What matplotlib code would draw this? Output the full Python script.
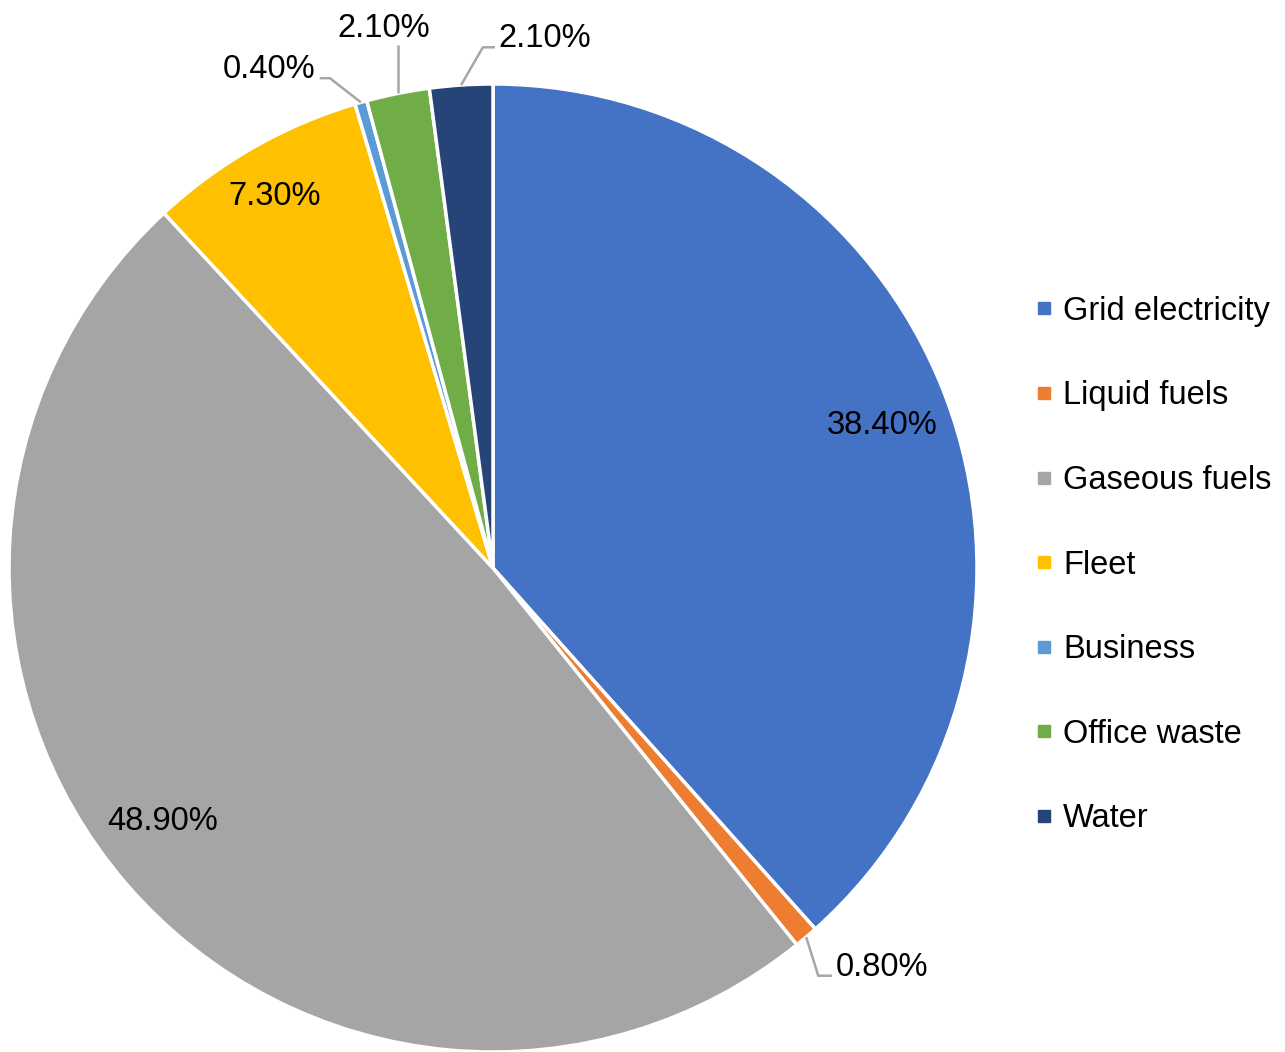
import numpy as np
import matplotlib
matplotlib.use('Agg')
import matplotlib.pyplot as plt
from matplotlib.lines import Line2D

plt.rcParams['font.family'] = ['Liberation Sans', 'DejaVu Sans']

# share of emissions per source (%)
labels = ['Grid electricity', 'Liquid fuels', 'Gaseous fuels', 'Fleet',
          'Business', 'Office waste', 'Water']
values = [38.4, 0.8, 48.9, 7.3, 0.4, 2.1, 2.1]
pct_text = ['38.40%', '0.80%', '48.90%', '7.30%', '0.40%', '2.10%', '2.10%']
colors = ['#4472C4', '#ED7D31', '#A5A5A5', '#FFC000',
          '#5B9BD5', '#70AD47', '#264478']

W, H = 1285, 1052
R = 484.0          # pie radius in pixels
cx, cy = 493, 568  # pie centre in pixels

fig = plt.figure(figsize=(W / 100, H / 100), dpi=100)
ax = fig.add_axes([0, 0, 1, 1])

wedges, _ = ax.pie(values, colors=colors, startangle=90, counterclock=False,
                   wedgeprops=dict(edgecolor='white', linewidth=2.5))
ax.set_xlim(-cx / R, (W - cx) / R)
ax.set_ylim(-(H - cy) / R, cy / R)
ax.set_aspect('auto')
ax.axis('off')

fs = 23.5
line_col = '#A6A6A6'

def mid(w, shift=0.0):
    a = np.deg2rad((w.theta1 + w.theta2) / 2 + shift)
    return np.cos(a), np.sin(a)

# labels drawn inside the big slices: (radius, angle shift)
inside = {0: (0.856, -0.7), 2: (0.86, -3.3), 3: (0.89, 0.7)}
for i, (r, sh) in inside.items():
    c, s = mid(wedges[i], sh)
    ax.text(r * c, r * s, pct_text[i], ha='center', va='center', fontsize=fs)

# labels with leader lines for the small slices
# (elbow offset, line end offset, text alignment) in radius units
leaders = {
    1: ((0.025, -0.08), (0.053, -0.08), 'left'),
    4: ((-0.064, 0.05), (-0.085, 0.05), 'right'),
    5: ((0.0, 0.10), (0.0, 0.10), 'center'),
    6: ((0.045, 0.078), (0.07, 0.078), 'left'),
}
for i, (elbow, end, ha) in leaders.items():
    c, s = mid(wedges[i])
    x0, y0 = 1.0 * c, 1.0 * s
    xs = [x0, x0 + elbow[0], x0 + end[0]]
    ys = [y0, y0 + elbow[1], y0 + end[1]]
    ax.plot(xs, ys, color=line_col, lw=1.8, solid_capstyle='butt')
    if ha == 'left':
        tx, ty = xs[-1] + 0.008, ys[-1]
    elif ha == 'right':
        tx, ty = xs[-1] - 0.01, ys[-1]
    else:
        tx, ty = xs[-1] - 0.03, ys[-1] + 0.016
    ax.text(tx, ty, pct_text[i], ha=ha, va='baseline', fontsize=fs)

handles = [Line2D([0], [0], marker='s', linestyle='', markersize=8,
                  markerfacecolor=col, markeredgecolor=col) for col in colors]
fig.legend(handles, labels, loc='center left',
           bbox_to_anchor=(1037 / W, 1 - 565 / H), frameon=False,
           fontsize=fs, handlelength=0.4, handletextpad=0.4,
           labelspacing=1.64, borderpad=0, borderaxespad=0)

fig.savefig('out.png', dpi=100)
